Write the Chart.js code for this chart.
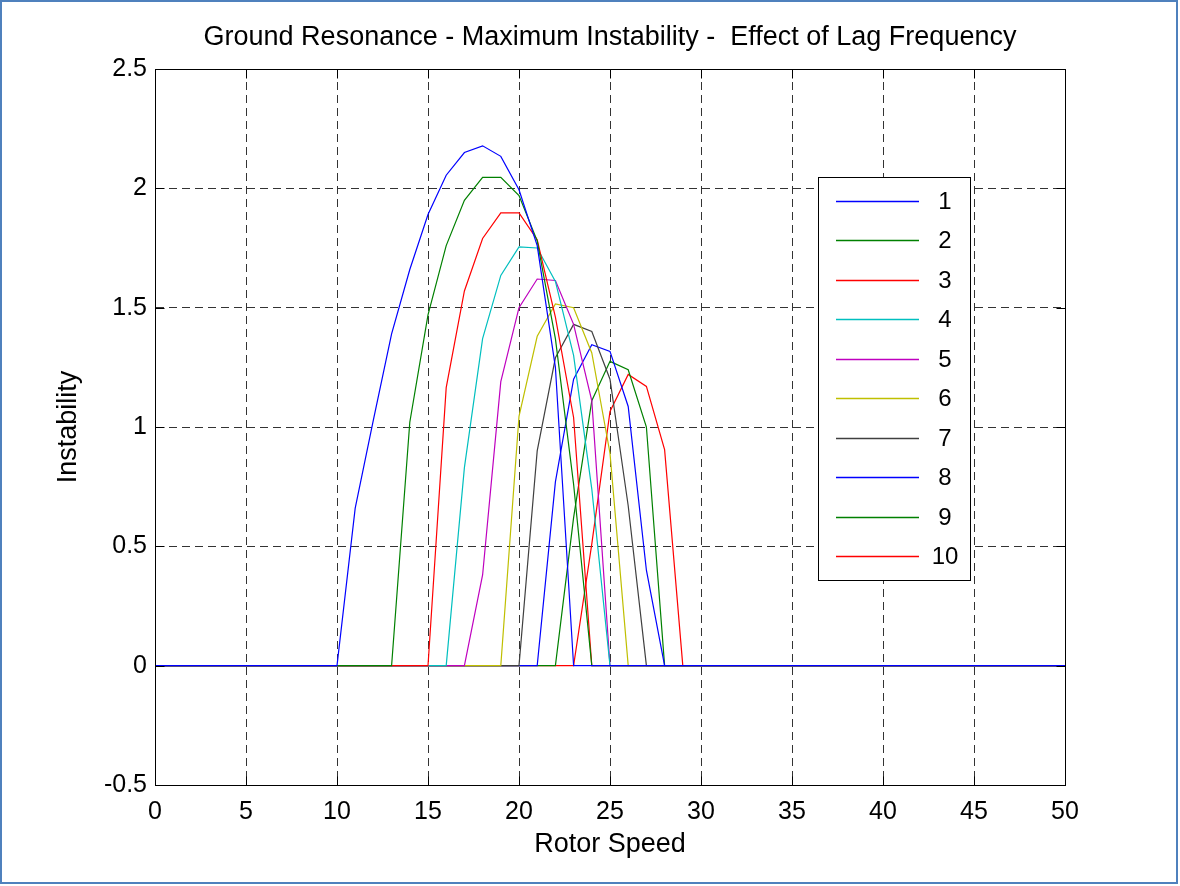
<!DOCTYPE html>
<html><head><meta charset="utf-8">
<script src="https://cdn.jsdelivr.net/npm/chart.js@4.4.1/dist/chart.umd.min.js"></script>
<style>html,body{margin:0;padding:0;background:#fff;}#wrap{width:1180px;height:886px;position:relative;}</style>
</head><body><div id="wrap"><canvas id="c" width="1180" height="886"></canvas></div>
<script>
const rotorSpeed = [0,1,2,3,4,5,6,7,8,9,10,11,12,13,14,15,16,17,18,19,20,21,22,23,24,25,26,27,28,29,30,31,32,33,34,35,36,37,38,39,40,41,42,43,44,45,46,47,48,49,50];
const xTickLabels = ['0','5','10','15','20','25','30','35','40','45','50'];
const yTickLabels = ['-0.5','0','0.5','1','1.5','2','2.5'];
const seriesLabels = ['1','2','3','4','5','6','7','8','9','10'];

const lag1  = [0,0,0,0,0,0,0,0,0,0, 0,0.66,1.03,1.39,1.66,1.89,2.055,2.15,2.178,2.134,1.994,1.76,1.25,0,0,0,0,0,0,0, 0,0,0,0,0,0,0,0,0,0,0,0,0,0,0,0,0,0,0,0,0];
const lag2  = [0,0,0,0,0,0,0,0,0,0, 0,0,0,0,1.02,1.47,1.76,1.95,2.046,2.046,1.97,1.78,1.37,0.76,0,0,0,0,0,0, 0,0,0,0,0,0,0,0,0,0,0,0,0,0,0,0,0,0,0,0,0];
const lag3  = [0,0,0,0,0,0,0,0,0,0, 0,0,0,0,0,0,1.165,1.57,1.79,1.897,1.897,1.785,1.46,1.04,0,0,0,0,0,0, 0,0,0,0,0,0,0,0,0,0,0,0,0,0,0,0,0,0,0,0,0];
const lag4  = [0,0,0,0,0,0,0,0,0,0, 0,0,0,0,0,0,0,0.83,1.37,1.635,1.755,1.75,1.61,1.30,0.74,0,0,0,0,0, 0,0,0,0,0,0,0,0,0,0,0,0,0,0,0,0,0,0,0,0,0];
const lag5  = [0,0,0,0,0,0,0,0,0,0, 0,0,0,0,0,0,0,0,0.38,1.19,1.5,1.62,1.614,1.43,1.11,0,0,0,0,0, 0,0,0,0,0,0,0,0,0,0,0,0,0,0,0,0,0,0,0,0,0];
const lag6  = [0,0,0,0,0,0,0,0,0,0, 0,0,0,0,0,0,0,0,0,0,1.045,1.38,1.516,1.5,1.31,0.89,0,0,0,0, 0,0,0,0,0,0,0,0,0,0,0,0,0,0,0,0,0,0,0,0,0];
const lag7  = [0,0,0,0,0,0,0,0,0,0, 0,0,0,0,0,0,0,0,0,0,0,0.9,1.29,1.43,1.4,1.2,0.67,0,0,0, 0,0,0,0,0,0,0,0,0,0,0,0,0,0,0,0,0,0,0,0,0];
const lag8  = [0,0,0,0,0,0,0,0,0,0, 0,0,0,0,0,0,0,0,0,0,0,0,0.77,1.2,1.345,1.317,1.086,0.4,0,0, 0,0,0,0,0,0,0,0,0,0,0,0,0,0,0,0,0,0,0,0,0];
const lag9  = [0,0,0,0,0,0,0,0,0,0, 0,0,0,0,0,0,0,0,0,0,0,0,0,0.62,1.11,1.275,1.24,1.0,0,0, 0,0,0,0,0,0,0,0,0,0,0,0,0,0,0,0,0,0,0,0,0];
const lag10 = [0,0,0,0,0,0,0,0,0,0, 0,0,0,0,0,0,0,0,0,0,0,0,0,0,0.51,1.065,1.22,1.17,0.905,0, 0,0,0,0,0,0,0,0,0,0,0,0,0,0,0,0,0,0,0,0,0];

const allSeries = [lag1,lag2,lag3,lag4,lag5,lag6,lag7,lag8,lag9,lag10];
const lineColors = ['#0000FF','#008000','#FF0000','#00BFBF','#BF00BF','#BFBF00','#404040','#0000FF','#008000','#FF0000'];
const FONT = '"Liberation Sans", Arial, Helvetica, sans-serif';

const datasets = allSeries.map((vals, i) => ({
  label: seriesLabels[i],
  data: rotorSpeed.map((x, j) => ({x: x, y: vals[j]})),
  borderColor: lineColors[i],
  backgroundColor: lineColors[i],
  borderWidth: 1.2,
  pointRadius: 0,
  tension: 0,
  fill: false
}));

const decor = {
  id: 'decor',
  afterDatasetsDraw(chart) {
    const ctx = chart.ctx, a = chart.chartArea;
    const xs = chart.scales.x, ys = chart.scales.y;
    ctx.save();
    ctx.strokeStyle = '#000';
    ctx.lineWidth = 1;
    const L = Math.round(a.left) + 0.5, R = Math.round(a.right) + 0.5;
    const T = Math.round(a.top) + 0.5, B = Math.round(a.bottom) + 0.5;
    ctx.beginPath();
    ctx.rect(L, T, R - L, B - T);
    const tl = 9;
    xs.ticks.forEach(t => {
      const px = Math.round(xs.getPixelForValue(t.value)) + 0.5;
      ctx.moveTo(px, B); ctx.lineTo(px, B - tl);
      ctx.moveTo(px, T); ctx.lineTo(px, T + tl);
    });
    ys.ticks.forEach(t => {
      const py = Math.round(ys.getPixelForValue(t.value)) + 0.5;
      ctx.moveTo(L, py); ctx.lineTo(L + tl, py);
      ctx.moveTo(R, py); ctx.lineTo(R - tl, py);
    });
    ctx.stroke();

    // legend
    const bx = 818.5, by = 177.5, bw = 152, bh = 403;
    ctx.fillStyle = '#fff';
    ctx.fillRect(bx, by, bw, bh);
    ctx.strokeStyle = '#000';
    ctx.lineWidth = 1;
    ctx.strokeRect(bx, by, bw, bh);
    ctx.font = '24px ' + FONT;
    ctx.textAlign = 'center';
    ctx.textBaseline = 'middle';
    chart.data.datasets.forEach((ds, i) => {
      const y = Math.round(201 + i * 39.45) + 0.5;
      ctx.strokeStyle = ds.borderColor;
      ctx.lineWidth = 1.3;
      ctx.beginPath();
      ctx.moveTo(836, y); ctx.lineTo(919, y);
      ctx.stroke();
      ctx.fillStyle = '#000';
      ctx.fillText(ds.label, 945, y + 1);
    });
    ctx.restore();
  },
  afterDraw(chart) {
    const ctx = chart.ctx;
    ctx.save();
    ctx.strokeStyle = '#4F81BD';
    ctx.lineWidth = 2;
    ctx.strokeRect(1, 1, 1176, 882);
    ctx.restore();
  }
};

new Chart(document.getElementById('c'), {
  type: 'line',
  data: { datasets: datasets },
  options: {
    responsive: false,
    animation: false,
    devicePixelRatio: 1,
    layout: { padding: { left: 0, top: 0, right: 115, bottom: 0 } },
    plugins: {
      legend: { display: false },
      tooltip: { enabled: false },
      title: {
        display: true,
        fullSize: false,
        text: 'Ground Resonance - Maximum Instability -  Effect of Lag Frequency',
        color: '#000',
        font: { family: FONT, size: 27, weight: 'normal', lineHeight: 1.2 },
        padding: { top: 21, bottom: 15.6 }
      }
    },
    scales: {
      x: {
        type: 'linear',
        min: 0, max: 50,
        afterFit(s) { s.height = 101; },
        ticks: {
          stepSize: 5,
          autoSkip: false,
          maxRotation: 0,
          padding: 12,
          color: '#000',
          font: { family: FONT, size: 25 },
          callback: (v, i) => xTickLabels[i]
        },
        grid: { color: '#333333', lineWidth: 1, drawTicks: false },
        border: { display: true, color: '#000', width: 1, dash: [8, 5] },
        title: {
          display: true, text: 'Rotor Speed', color: '#000',
          font: { family: FONT, size: 27, lineHeight: 1.2 },
          padding: { top: 0, bottom: 25 }
        }
      },
      y: {
        type: 'linear',
        min: -0.5, max: 2.5,
        afterFit(s) { s.width = 155; },
        ticks: {
          stepSize: 0.5,
          autoSkip: false,
          padding: 8,
          color: '#000',
          font: { family: FONT, size: 25 },
          callback: (v, i) => yTickLabels[i]
        },
        grid: { color: '#333333', lineWidth: 1, drawTicks: false },
        border: { display: true, color: '#000', width: 1, dash: [8, 5] },
        title: {
          display: true, text: 'Instability', color: '#000',
          font: { family: FONT, size: 27, lineHeight: 1.2 },
          padding: { top: 52, bottom: 0 }
        }
      }
    }
  },
  plugins: [decor]
});
</script>
</body></html>
